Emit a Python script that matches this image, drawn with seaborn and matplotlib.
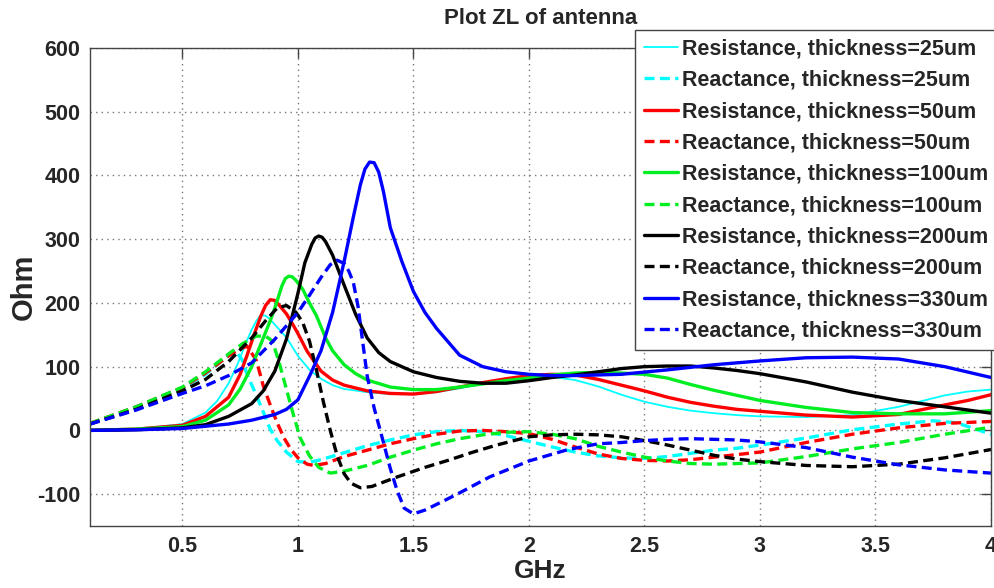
import numpy as np
import pandas as pd
import matplotlib
matplotlib.use("Agg")
import matplotlib.pyplot as plt
import seaborn as sns

# ---------------- data ----------------
x_r25 = [0.1, 0.3, 0.5, 0.6, 0.65, 0.7, 0.74, 0.77, 0.8, 0.82, 0.84, 0.86, 0.88, 0.91, 0.95, 1.0, 1.05,
         1.1, 1.15, 1.2, 1.3, 1.4, 1.5, 1.6, 1.7, 1.8, 1.9, 2.0, 2.1, 2.2, 2.3, 2.4, 2.5, 2.6, 2.7, 2.8,
         2.9, 3.0, 3.2, 3.4, 3.6, 3.8, 3.9, 4.0]
y_r25 = [0, 2, 10, 28, 46, 74, 105, 133, 158, 172, 181, 180, 174, 162, 146, 117, 95,
         81, 71, 65, 60, 57, 57, 60, 66, 73, 80, 84, 84, 79, 69, 56, 45, 37, 31, 27,
         24, 22, 21, 24, 37, 55, 61, 64]

x_x25 = [0.1, 0.3, 0.5, 0.6, 0.68, 0.73, 0.76, 0.78, 0.82, 0.85, 0.88, 0.91, 0.95, 1.0, 1.05, 1.1,
         1.2, 1.3, 1.4, 1.5, 1.6, 1.7, 1.8, 1.9, 2.0, 2.1, 2.2, 2.3, 2.4, 2.5, 2.6, 2.7, 2.8, 2.9,
         3.0, 3.2, 3.4, 3.6, 3.75, 3.85, 3.95, 4.0]
y_x25 = [10, 37, 66, 88, 112, 125, 110, 88, 55, 29, 2, -16, -34, -49, -50, -46,
         -35, -24, -15, -7, -2, 0, -2, -8, -17, -26, -34, -40, -43, -44, -41, -36, -31, -28,
         -23, -12, 1, 10, 15, 12, 0, -6]

x_r50 = [0.1, 0.3, 0.5, 0.6, 0.7, 0.75, 0.78, 0.81, 0.84, 0.86, 0.88, 0.9, 0.92, 0.95, 0.98, 1.0,
         1.04, 1.1, 1.15, 1.2, 1.3, 1.4, 1.5, 1.6, 1.7, 1.8, 1.9, 2.0, 2.1, 2.2, 2.3, 2.4, 2.5, 2.6,
         2.7, 2.8, 2.9, 3.0, 3.2, 3.4, 3.6, 3.8, 3.9, 4.0]
y_r50 = [0, 2, 8, 22, 52, 88, 118, 150, 180, 196, 205, 204, 196, 183, 165, 152,
         124, 93, 79, 71, 62, 58, 57, 61, 68, 75, 81, 86, 88, 87, 80, 71, 62, 52,
         44, 38, 33, 30, 24, 21, 25, 40, 47, 56]

x_x50 = [0.1, 0.3, 0.5, 0.6, 0.7, 0.75, 0.78, 0.82, 0.85, 0.88, 0.91, 0.94, 0.97, 1.0, 1.04, 1.07,
         1.12, 1.2, 1.3, 1.4, 1.5, 1.6, 1.7, 1.8, 1.9, 2.0, 2.1, 2.2, 2.3, 2.4, 2.5, 2.6, 2.7, 2.8,
         2.9, 3.0, 3.2, 3.4, 3.6, 3.8, 4.0]
y_x50 = [11, 37, 67, 90, 117, 128, 132, 110, 70, 40, 12, -12, -30, -43, -53, -55,
         -52, -41, -31, -21, -13, -6, -1, 0, -2, -5, -14, -26, -37, -44, -47, -48, -46, -42,
         -38, -34, -19, -6, 4, 11, 14]

x_r100 = [0.1, 0.3, 0.5, 0.6, 0.7, 0.75, 0.8, 0.85, 0.88, 0.9, 0.93, 0.945, 0.96, 0.975, 0.99, 1.02,
          1.05, 1.08, 1.12, 1.15, 1.2, 1.25, 1.3, 1.4, 1.5, 1.6, 1.7, 1.8, 1.9, 2.0, 2.1, 2.2, 2.3,
          2.4, 2.5, 2.6, 2.7, 2.8, 2.9, 3.0, 3.2, 3.4, 3.6, 3.8, 4.0]
y_r100 = [0, 2, 6, 16, 40, 65, 100, 145, 172, 192, 226, 238, 242, 241, 236, 222,
          200, 180, 145, 125, 103, 89, 79, 68, 64, 64, 68, 73, 78, 82, 87, 90, 91,
          90, 88, 82, 72, 63, 55, 47, 36, 28, 26, 26, 31]

x_x100 = [0.1, 0.3, 0.5, 0.6, 0.7, 0.76, 0.82, 0.86, 0.89, 0.92, 0.95, 0.98, 1.01, 1.05, 1.09, 1.14,
          1.2, 1.3, 1.4, 1.5, 1.6, 1.7, 1.8, 1.9, 2.0, 2.1, 2.2, 2.3, 2.4, 2.5, 2.6, 2.7, 2.8, 2.9,
          3.0, 3.2, 3.4, 3.6, 3.8, 4.0]
y_x100 = [11, 37, 68, 92, 120, 136, 148, 148, 140, 105, 65, 25, -12, -40, -58, -67,
          -64, -55, -42, -31, -21, -13, -7, -3, -2, -6, -13, -25, -34, -42, -48, -52, -53, -52,
          -51, -41, -29, -19, -6, 5]

x_r200 = [0.1, 0.3, 0.5, 0.6, 0.7, 0.8, 0.85, 0.9, 0.95, 1.0, 1.03, 1.06, 1.075, 1.09, 1.105, 1.12,
          1.15, 1.2, 1.25, 1.3, 1.35, 1.4, 1.5, 1.6, 1.7, 1.8, 1.9, 2.0, 2.1, 2.2, 2.3, 2.4, 2.5,
          2.6, 2.7, 2.8, 2.9, 3.0, 3.2, 3.4, 3.6, 3.8, 4.0]
y_r200 = [0, 1, 4, 9, 22, 42, 62, 93, 143, 215, 263, 292, 302, 305, 303, 296,
          275, 228, 182, 145, 122, 108, 92, 83, 77, 74, 74, 78, 83, 87, 92, 97, 100,
          101, 101, 98, 94, 89, 76, 60, 47, 37, 27]

x_x200 = [0.1, 0.3, 0.5, 0.6, 0.7, 0.8, 0.86, 0.91, 0.95, 0.99, 1.02, 1.05, 1.08, 1.11, 1.14, 1.17,
          1.2, 1.23, 1.27, 1.32, 1.43, 1.55, 1.65, 1.75, 1.86, 2.0, 2.1, 2.2, 2.3, 2.4, 2.5, 2.6,
          2.7, 2.8, 2.9, 3.0, 3.2, 3.4, 3.6, 3.8, 4.0]
y_x200 = [10, 33, 62, 80, 108, 145, 172, 192, 196, 186, 170, 140, 95, 45, 0, -40,
          -68, -83, -90, -88, -73, -58, -47, -35, -23, -10, -7, -6, -7, -10, -16, -23,
          -31, -39, -45, -49, -55, -57, -53, -43, -30]

x_r330 = [0.1, 0.3, 0.5, 0.7, 0.8, 0.9, 0.95, 1.0, 1.05, 1.1, 1.15, 1.2, 1.24, 1.27, 1.29, 1.31,
          1.33, 1.35, 1.37, 1.4, 1.45, 1.5, 1.55, 1.6, 1.7, 1.8, 1.9, 2.0, 2.1, 2.2, 2.4, 2.6,
          2.8, 3.0, 3.2, 3.4, 3.6, 3.8, 4.0]
y_r330 = [0, 1, 3, 10, 16, 25, 33, 48, 85, 125, 185, 265, 335, 385, 410, 421,
          420, 405, 375, 318, 265, 218, 185, 160, 118, 100, 92, 88, 86, 86, 88, 95,
          103, 109, 114, 115, 112, 100, 83]

x_x330 = [0.1, 0.3, 0.5, 0.6, 0.7, 0.8, 0.9, 1.0, 1.05, 1.1, 1.14, 1.17, 1.2, 1.22, 1.24, 1.26,
          1.28, 1.3, 1.33, 1.36, 1.4, 1.43, 1.46, 1.5, 1.55, 1.64, 1.7, 1.83, 2.0, 2.17, 2.3, 2.4,
          2.5, 2.6, 2.7, 2.8, 2.9, 3.0, 3.2, 3.4, 3.6, 3.8, 4.0]
y_x330 = [10, 32, 58, 70, 86, 106, 143, 185, 212, 240, 260, 267, 262, 250, 232, 195,
          140, 85, 35, -5, -60, -95, -122, -131, -125, -109, -98, -73, -48, -30, -21, -19,
          -16, -14, -13, -14, -15, -18, -27, -42, -54, -62, -67]

labels = ["Resistance, thickness=25um", "Reactance, thickness=25um",
          "Resistance, thickness=50um", "Reactance, thickness=50um",
          "Resistance, thickness=100um", "Reactance, thickness=100um",
          "Resistance, thickness=200um", "Reactance, thickness=200um",
          "Resistance, thickness=330um", "Reactance, thickness=330um"]
x_ticks = [0.5, 1, 1.5, 2, 2.5, 3, 3.5, 4]
x_tick_labels = ["0.5", "1", "1.5", "2", "2.5", "3", "3.5", "4"]
y_ticks = [-100, 0, 100, 200, 300, 400, 500, 600]

# ---------------- styling ----------------
sns.set_style("white")
plt.rcParams["font.family"] = ["Liberation Sans", "DejaVu Sans"]
plt.rcParams["font.weight"] = "bold"
plt.rcParams["axes.unicode_minus"] = False

series = [(x_r25, y_r25), (x_x25, y_x25), (x_r50, y_r50), (x_x50, y_x50),
          (x_r100, y_r100), (x_x100, y_x100), (x_r200, y_r200), (x_x200, y_x200),
          (x_r330, y_r330), (x_x330, y_x330)]
colors = ["#00FFFF", "#00FFFF", "#FF0000", "#FF0000", "#00EE22", "#00EE22",
          "#000000", "#000000", "#0000FF", "#0000FF"]
styles = ["-", "--"] * 5
widths = [1.3, 2.4, 2.4, 2.4, 2.4, 2.4, 2.4, 2.4, 2.4, 2.4]

fig = plt.figure(figsize=(9.94, 5.88), dpi=100)
ax = fig.add_axes([90 / 994, 62 / 588, 901 / 994, 478 / 588])

for (xs, ys), lab, c, ls, lw in zip(series, labels, colors, styles, widths):
    df = pd.DataFrame({"GHz": xs, "Ohm": ys})
    sns.lineplot(data=df, x="GHz", y="Ohm", ax=ax, color=c, linewidth=lw,
                 label=lab, sort=True, estimator=None)
    ax.lines[-1].set_linestyle(ls)
    if ls == "--":
        ax.lines[-1].set_dashes((3.0, 1.6))

ax.set_xlim(0.1, 4)
ax.set_ylim(-150, 600)
ax.set_xticks(x_ticks)
ax.set_xticklabels(x_tick_labels)
ax.set_yticks(y_ticks)
ax.set_yticklabels([str(v) for v in y_ticks])
ax.tick_params(axis="both", which="both", direction="in", length=7, width=1,
               color="#444444", labelsize=15.5, top=True, right=True, pad=7)
for lab in ax.get_xticklabels() + ax.get_yticklabels():
    lab.set_fontweight("bold")
ax.grid(True, linestyle=(0, (1, 3)), color="#777777", linewidth=1)
for sp in ax.spines.values():
    sp.set_visible(True)
    sp.set_color("#444444")
    sp.set_linewidth(1)

ax.set_xlabel("GHz", fontsize=19, fontweight="bold", labelpad=2)
ax.set_ylabel("Ohm", fontsize=21, fontweight="bold")
ax.yaxis.set_label_coords(-0.058, 0.5)
ax.set_title("Plot ZL of antenna", fontsize=16, fontweight="bold", pad=17)

handles, labs = ax.get_legend_handles_labels()
leg = ax.legend(handles, labs, loc="upper left",
                bbox_to_anchor=(635 / 994, 1 - 30 / 588), bbox_transform=fig.transFigure,
                prop={"weight": "bold", "size": 15.5},
                frameon=True, fancybox=False, framealpha=1, edgecolor="#444444",
                borderpad=0.4, labelspacing=0.48, handlelength=1.6, handletextpad=0.2,
                borderaxespad=0)
leg.get_frame().set_linewidth(1)

fig.savefig("out.png", dpi=100)
